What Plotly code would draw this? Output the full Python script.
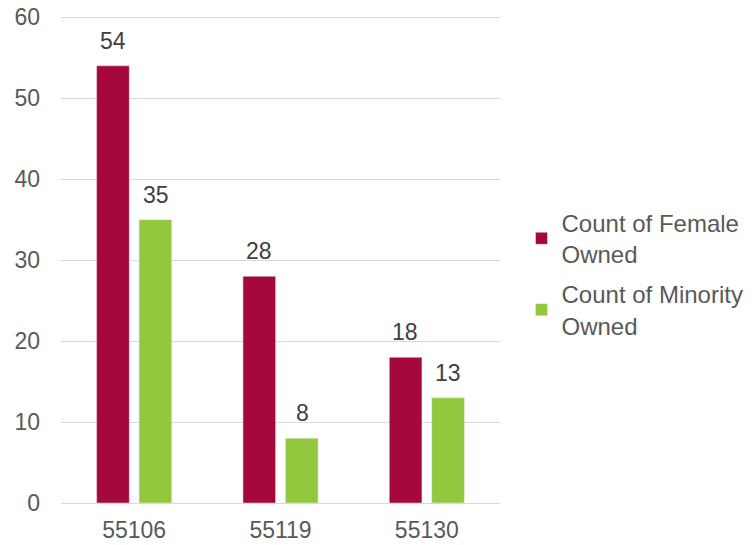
import plotly.graph_objects as go

# zip codes and counts
zips = ["55106", "55119", "55130"]
female_owned = [54, 28, 18]
minority_owned = [35, 8, 13]

FONT = "Liberation Sans, Arial, sans-serif"
GRAY = "#595959"
SZ = 23

fig = go.Figure()
series = [
    ("Count of Female<br>Owned", female_owned, "#A5083C", -21.5),
    ("Count of Minority<br>Owned", minority_owned, "#92C83E", 21.5),
]
for i, (name, vals, color, shift) in enumerate(series):
    fig.add_trace(go.Bar(
        x=zips, y=vals, name=name, legendgroup=f"g{i}",
        marker=dict(color=color),
    ))
    # value labels sitting a bit above each bar (x = category index)
    for k, v in enumerate(vals):
        fig.add_annotation(
            x=k, y=v, text=str(v), showarrow=False,
            xshift=shift, yshift=10, yanchor="bottom",
            font=dict(size=SZ, color="#404040", family=FONT),
        )

# page body has an 8px margin, so the figure is 8px smaller each way
fig.update_layout(
    width=748, height=537,
    margin=dict(l=53, r=250, t=8, b=42),
    paper_bgcolor="white", plot_bgcolor="white",
    font=dict(family=FONT, size=SZ, color=GRAY),
    barmode="group", bargap=0.42, bargroupgap=0.23,
    showlegend=True,
    legend=dict(
        x=1.049, xanchor="left", y=0.47, yanchor="middle",
        font=dict(size=24, color=GRAY, family=FONT),
        tracegroupgap=6, itemwidth=30,
    ),
    yaxis=dict(
        range=[0, 60.15], dtick=10, showgrid=True, gridcolor="#D9D9D9",
        gridwidth=1, zeroline=False, showline=False, ticks="",
        ticklabelstandoff=20, automargin=False, ticklabeloverflow="allow",
        tickfont=dict(size=SZ, color=GRAY),
    ),
    xaxis=dict(
        type="category", range=[-0.5, 2.5],
        showline=True, linecolor="#D9D9D9", linewidth=1, ticks="",
        tickfont=dict(size=SZ, color=GRAY), ticklabelstandoff=6,
        automargin=False,
    ),
)

fig.write_html("out.html")
